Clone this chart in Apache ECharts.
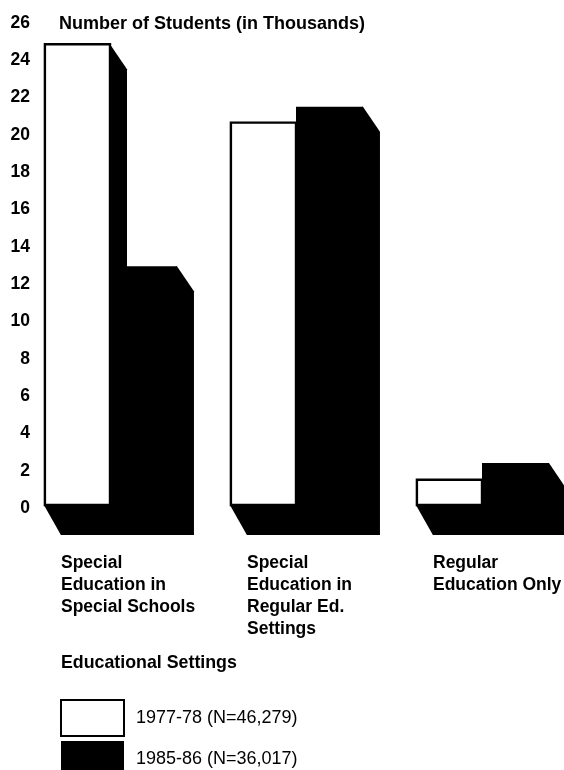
<!DOCTYPE html>
<html><head><meta charset="utf-8">
<style>html,body{margin:0;padding:0;background:#fff}#c{width:564px;height:770px}</style>
<script src="https://cdn.jsdelivr.net/npm/echarts@6/dist/echarts.min.js"></script>
</head><body><div id="c"></div>
<script>
const categories = ['Special\nEducation in\nSpecial Schools', 'Special\nEducation in\nRegular Ed.\nSettings', 'Regular\nEducation Only'];
const values7778 = [24.7, 20.5, 1.35];
const values8586 = [12.8, 21.35, 2.25];
const yTicks = {min: 0, max: 26, interval: 2};
const seriesNames = ['1977-78 (N=46,279)', '1985-86 (N=36,017)'];
const yTitle = 'Number of Students (in Thousands)';
const xTitle = 'Educational Settings';
const FONT = '"Liberation Sans", Arial, sans-serif';
const DX = 17, DY = 25, FLOOR = 30;

function bar3d(isFirst) {
  return function (params, api) {
    const i = api.value(0), v = api.value(1);
    const c = api.coord([i, v]), base = api.coord([i, 0]);
    const band = api.size([1, 0])[0];
    const x0 = isFirst ? c[0] - band * 0.35 : c[0];
    const x1 = isFirst ? c[0] : c[0] + band * 0.36;
    const top = c[1], bot = base[1];
    const black = {fill: '#000'};
    return {type: 'group', children: [
      {type: 'polygon', shape: {points: [[x0 - 1, bot], [x0 + DX - 1, bot + FLOOR], [x1 + DX, bot + FLOOR], [x1, bot]]}, style: black},
      {type: 'polygon', shape: {points: [[x1 - 1, top], [x1, top], [x1 + DX, top + DY], [x1 + DX, bot + FLOOR], [x1 - 1, bot + FLOOR]]}, style: black},
      {type: 'rect', shape: {x: x0, y: top, width: x1 - x0, height: bot - top},
       style: isFirst ? {fill: '#fff', stroke: '#000', lineWidth: 2.4} : {fill: '#000'}}
    ]};
  };
}

const chart = echarts.init(document.getElementById('c'), null, {renderer: 'canvas'});
chart.setOption({
  animation: false,
  backgroundColor: '#fff',
  grid: {left: 17, top: 20, width: 558, height: 485, containLabel: false, outerBoundsMode: 'none'},
  title: [
    {text: yTitle, left: 59, top: 15, textStyle: {fontFamily: FONT, fontWeight: 'bold', fontSize: 18, color: '#000'}, padding: 0},
    {text: xTitle, left: 61, top: 654, textStyle: {fontFamily: FONT, fontWeight: 'bold', fontSize: 17.8, color: '#000'}, padding: 0}
  ],
  legend: {
    orient: 'vertical', left: 60, top: 699, height: 120, itemWidth: 63, itemHeight: 36, itemGap: 4, padding: 0,
    data: [
      {name: seriesNames[0], icon: 'rect', itemStyle: {color: '#fff', borderColor: '#000', borderWidth: 2}},
      {name: seriesNames[1], icon: 'rect', itemStyle: {color: '#000'}}
    ],
    textStyle: {fontFamily: FONT, fontSize: 18, color: '#000', padding: [2, 0, 0, 7]}
  },
  xAxis: {
    type: 'category', data: categories,
    axisLine: {show: false}, axisTick: {show: false},
    axisLabel: {
      interval: 0, margin: 47, align: 'left', verticalAlign: 'top', hideOverlap: false,
      fontFamily: FONT, fontWeight: 'bold', fontSize: 17.5, lineHeight: 22, color: '#000',
      padding: [0, 0, 0, -49]
    }
  },
  yAxis: {
    type: 'value', min: yTicks.min, max: yTicks.max, interval: yTicks.interval,
    axisLine: {show: false}, axisTick: {show: false}, splitLine: {show: false},
    axisLabel: {margin: -13, fontFamily: FONT, fontWeight: 'bold', fontSize: 17.5, color: '#000', align: 'right', verticalAlign: 'top', padding: [-6, 0, 0, 0]}
  },
  series: [
    {name: seriesNames[0], type: 'custom', clip: false, renderItem: bar3d(true), data: values7778.map((v, i) => [i, v]), encode: {x: 0, y: 1}, itemStyle: {color: '#fff'}},
    {name: seriesNames[1], type: 'custom', clip: false, renderItem: bar3d(false), data: values8586.map((v, i) => [i, v]), encode: {x: 0, y: 1}, itemStyle: {color: '#000'}}
  ]
});
</script></body></html>
